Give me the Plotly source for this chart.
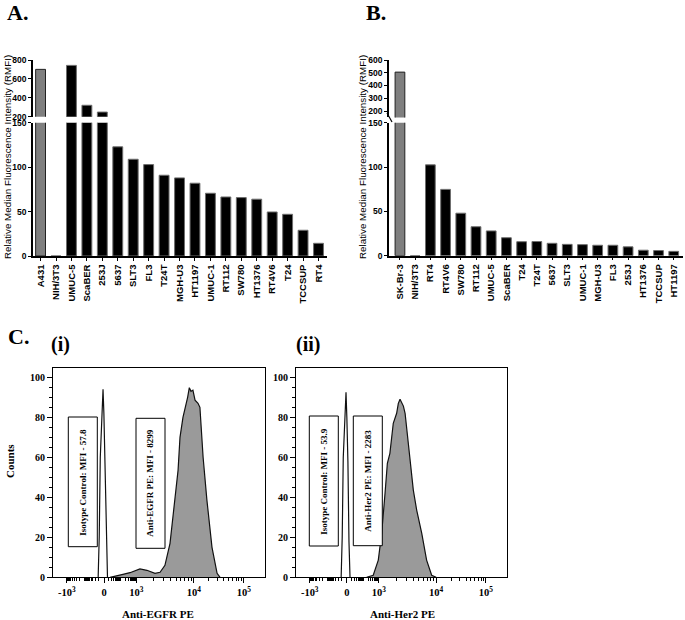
import numpy as np
import plotly.graph_objects as go

# ---------------- data ----------------
cats_a = ["A431", "NIH/3T3", "UMUC-5", "ScaBER", "253J", "5637", "SLT3", "FL3", "T24T",
          "MGH-U3", "HT1197", "UMUC-1", "RT112", "SW780", "HT1376", "RT4V6", "T24", "TCCSUP", "RT4"]
rmfi_a = [701, 0, 743, 321, 249, 123, 109, 103, 91, 88, 82, 70.7, 66.5, 65.8, 64, 49.6, 47, 29, 14.3]
ctrl_a = "A431"

cats_b = ["SK-Br-3", "NIH/3T3", "RT4", "RT4V6", "SW780", "RT112", "UMUC-5", "ScaBER", "T24", "T24T",
          "5637", "SLT3", "UMUC-1", "MGH-U3", "FL3", "253J", "HT1376", "TCCSUP", "HT1197"]
rmfi_b = [505, 0, 102.6, 74.9, 48, 32.7, 28, 20.3, 15.8, 16, 14, 12.8, 12.5, 11.8, 11.8, 10, 6.2, 5.8, 4.9]
ctrl_b = "SK-Br-3"

# flow cytometry histograms (x in display channels 0-1000, y = counts)
iso_i_x = [213, 218, 223, 230, 236, 240, 245, 251, 257]
iso_i_y = [0, 20, 60, 85, 94, 82, 60, 20, 0]
egfr_x = [269, 300, 330, 363, 410, 443, 481, 505, 528, 552, 575, 590, 599, 613, 635, 643, 651, 660,
          670, 684, 693, 708, 726, 750, 774, 788]
egfr_y = [0, 0.6, 1.5, 2.3, 4.2, 3.5, 2.0, 2.5, 6, 17, 38.6, 53.6, 70, 80, 90, 94.8, 93, 93.6,
          88.6, 87, 85, 60, 38.6, 15, 2, 0]

iso_ii_x = [214, 219, 224, 231, 237, 241, 246, 251, 256]
iso_ii_y = [0, 20, 60, 84, 92.5, 80, 58, 18, 0]
her2_x = [335, 366, 390, 406, 422, 433, 445, 461, 477, 485, 493, 501, 509, 517, 527, 540, 556, 572,
          596, 619, 643, 664]
her2_y = [0, 1, 8.6, 22, 42, 57, 62, 77, 82, 87, 89, 87, 85.6, 82, 72, 57, 43.6, 33.6, 22, 8.6, 1, 0]

flow_major_vals = [-1000, 0, 1000, 10000, 100000]
flow_major_text = ["-10<sup>3</sup>", "0", "10<sup>3</sup>", "10<sup>4</sup>", "10<sup>5</sup>"]

# ---------------- helpers ----------------
W, H = 685, 620
def fx(x): return x / W
def fy(y): return 1 - y / H

SANS = "Liberation Sans, Arial, sans-serif"
SERIF = "Liberation Serif, Times New Roman, serif"

anchor_t = [-np.log10(1 + 1000 / 10), 0, np.log10(1 + 1000 / 10), np.log10(1 + 1e4 / 10), np.log10(1 + 1e5 / 10)]
anchor_ch = [65, 241, 393, 664, 900]
def to_channel(v):
    v = np.asarray(v, dtype=float)
    t = np.sign(v) * np.log10(1 + np.abs(v) / 10)
    return np.interp(t, anchor_t, anchor_ch)

minor_vals = ([-k for k in range(100, 1000, 100)] + [-k for k in range(10, 100, 10)] +
              list(range(10, 100, 10)) + list(range(100, 1000, 100)) +
              list(range(2000, 10000, 1000)) + list(range(20000, 100000, 10000)))

fig = go.Figure()

# ---------------- panels A & B ----------------
def add_bars(cats, vals, ctrl, xa, ylo, yhi):
    fill = ["#7f7f7f" if c == ctrl else "#000000" for c in cats]
    edge = ["#222222" if c == ctrl else "#6e6e6e" for c in cats]
    for ya in (ylo, yhi):
        fig.add_trace(go.Bar(x=cats, y=vals, xaxis=xa, yaxis=ya, width=0.64,
                             marker=dict(color=fill, line=dict(color=edge, width=1)),
                             showlegend=False, hoverinfo="x+y"))

add_bars(cats_a, rmfi_a, ctrl_a, "x", "y", "y2")
add_bars(cats_b, rmfi_b, ctrl_b, "x2", "y3", "y4")

bar_x = dict(type="category", showline=True, linecolor="black", linewidth=1.5,
             ticks="outside", ticklen=3, tickwidth=1.2, tickcolor="black", tickangle=-90,
             tickfont=dict(family=SANS, size=9.5, color="black", weight="bold"),
             showgrid=False, zeroline=False, automargin=False)
bar_y = dict(showline=True, linecolor="black", linewidth=1.5, ticks="outside", ticklen=3,
             tickwidth=1.2, tickcolor="black",
             tickfont=dict(family=SANS, size=8.5, color="black", weight="bold"),
             showgrid=False, zeroline=False, automargin=False)

fig.update_layout(
    xaxis=dict(bar_x, domain=[fx(33), fx(327)], anchor="y", range=[-0.49, 18.55]),
    yaxis=dict(bar_y, domain=[fy(256), fy(122.7)], anchor="x", range=[0, 150.2],
               tickvals=[0, 50, 100, 150]),
    yaxis2=dict(bar_y, domain=[fy(116.7), fy(60)], anchor="x", range=[200, 800],
                tickvals=[200, 400, 600, 800]),
    xaxis2=dict(bar_x, domain=[fx(389), fx(683)], anchor="y3", range=[-0.72, 18.61]),
    yaxis3=dict(bar_y, domain=[fy(255.7), fy(122.7)], anchor="x2", range=[0, 150.2],
                tickvals=[0, 50, 100, 150]),
    yaxis4=dict(bar_y, domain=[fy(117.4), fy(60)], anchor="x2", range=[150, 600],
                tickvals=[200, 300, 400, 500, 600]),
)

# ---------------- panel C ----------------
for xa, ya, ix, iy, sx, sy in (("x3", "y5", iso_i_x, iso_i_y, egfr_x, egfr_y),
                               ("x4", "y6", iso_ii_x, iso_ii_y, her2_x, her2_y)):
    fig.add_trace(go.Scatter(x=sx, y=sy, xaxis=xa, yaxis=ya, mode="lines", fill="tozeroy",
                             fillcolor="#9a9a9a", line=dict(color="#111111", width=1.2),
                             showlegend=False))
    fig.add_trace(go.Scatter(x=ix, y=iy, xaxis=xa, yaxis=ya, mode="lines",
                             line=dict(color="#111111", width=1.2), showlegend=False))

flow_x = dict(range=[0, 1000], showline=True, mirror=True, linecolor="black", linewidth=1.2,
              ticks="outside", ticklen=5, tickwidth=1.2, tickcolor="black",
              tickvals=list(to_channel(flow_major_vals)), ticktext=flow_major_text,
              tickfont=dict(family=SERIF, size=10.5, color="black", weight="bold"),
              minor=dict(tickvals=list(to_channel(minor_vals)), ticks="outside", ticklen=3,
                         tickwidth=1, tickcolor="black"),
              showgrid=False, zeroline=False, automargin=False)
flow_y = dict(range=[0, 104.8], showline=True, mirror=True, linecolor="black", linewidth=1.2,
              ticks="outside", ticklen=5, tickwidth=1.2, tickcolor="black",
              tickvals=[0, 20, 40, 60, 80, 100],
              tickfont=dict(family=SERIF, size=10, color="black", weight="bold"),
              minor=dict(dtick=5, ticks="outside", ticklen=3, tickwidth=1, tickcolor="black"),
              showgrid=False, zeroline=False, automargin=False)

fig.update_layout(
    xaxis3=dict(flow_x, domain=[fx(53), fx(265)], anchor="y5"),
    yaxis5=dict(flow_y, domain=[fy(577.3), fy(367.7)], anchor="x3"),
    xaxis4=dict(flow_x, domain=[fx(296), fx(507)], anchor="y6"),
    yaxis6=dict(flow_y, domain=[fy(577.3), fy(367.7)], anchor="x4"),
)

# ---------------- text / boxes ----------------
ann = []
def text(x, y, s, size, family, bold=True, angle=0, xanchor="center"):
    ann.append(dict(x=fx(x), y=fy(y), xref="paper", yref="paper", text=s, showarrow=False,
                    textangle=angle, xanchor=xanchor, yanchor="middle",
                    font=dict(family=family, size=size, color="black",
                              weight="bold" if bold else "normal")))

text(5, 12, "A.", 22, SERIF, xanchor="left")
text(364, 12, "B.", 22, SERIF, xanchor="left")
text(6, 336, "C.", 22, SERIF, xanchor="left")
text(49, 345, "(i)", 20, SERIF, xanchor="left")
text(294, 345, "(ii)", 20, SERIF, xanchor="left")

text(8, 157, "Relative Median Fluorescence Intensity (RMFI)", 9.8, SANS, bold=False, angle=-90)
text(363, 157, "Relative Median Fluorescence Intensity (RMFI)", 9.8, SANS, bold=False, angle=-90)

text(10, 461, "Counts", 11, SERIF, angle=-90)
text(158, 614, "Anti-EGFR PE", 11, SERIF)
text(402, 614, "Anti-Her2 PE", 11, SERIF)

boxes = [((68.3, 417, 97.3, 546.7), "Isotype Control: MFI - 57.8"),
         ((136, 418.3, 165, 548.3), "Anti-EGFR PE: MFI - 8299"),
         ((309.3, 416, 338.3, 546), "Isotype Control: MFI - 53.9"),
         ((353.3, 416, 382.3, 545.7), "Anti-Her2 PE: MFI - 2283")]
shapes = []
for (x0, y0, x1, y1), s in boxes:
    shapes.append(dict(type="rect", xref="paper", yref="paper", x0=fx(x0), x1=fx(x1),
                       y0=fy(y1), y1=fy(y0), line=dict(color="black", width=1),
                       fillcolor="white", layer="above"))
    text((x0 + x1) / 2, (y0 + y1) / 2, s, 9, SERIF, angle=-90)

# axis break mark for panel B
shapes.append(dict(type="line", xref="paper", yref="paper", x0=fx(387), y0=fy(113),
                   x1=fx(392), y1=fy(122), line=dict(color="black", width=1.2)))

fig.update_layout(width=W, height=H, margin=dict(l=0, r=0, t=0, b=0, autoexpand=False),
                  paper_bgcolor="white", plot_bgcolor="white",
                  annotations=ann, shapes=shapes, bargap=0.3)

fig.write_html("out.html", config={"displayModeBar": False},
               post_script="document.body.style.margin='0';")
